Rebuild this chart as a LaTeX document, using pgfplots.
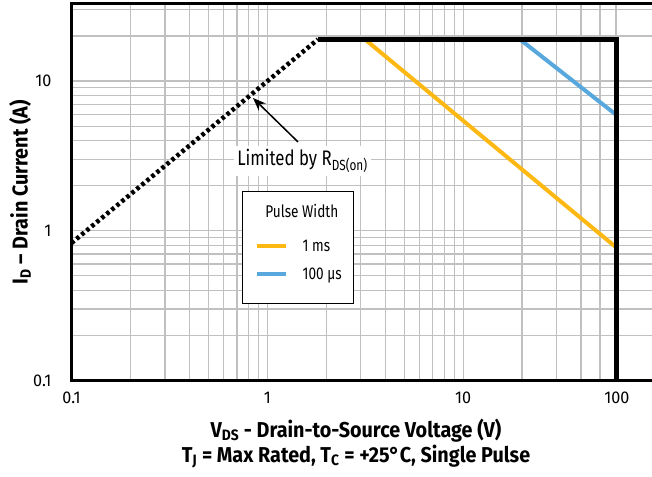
\documentclass[border=0pt]{standalone}
\usepackage{pgfplots}
\pgfplotsset{compat=1.18}
\usetikzlibrary{arrows.meta}
\usepackage{fontspec}
\setmainfont{Fira Sans}[FakeStretch=0.8]
\newfontfamily\tickfam{Fira Sans}[FakeStretch=0.95]
\newfontfamily\labfam{Fira Sans}[FakeStretch=0.92]
\newfontfamily\annfam{Fira Sans}[FakeStretch=0.8]
\definecolor{pworange}{RGB}{253,184,19}
\definecolor{pwblue}{RGB}{88,168,221}
\definecolor{gridgray}{RGB}{192,192,192}
\newcommand{\tickfont}{\tickfam\fontsize{17bp}{19bp}\selectfont}
\newcommand{\legfont}{\fontsize{17bp}{20bp}\selectfont}
\newcommand{\annfont}{\annfam\fontsize{21bp}{24bp}\selectfont}
\newcommand{\labfont}{\labfam\bfseries\fontsize{21.5bp}{25bp}\selectfont}
\begin{document}
\begin{tikzpicture}
\begin{axis}[
  name=ax, at={(0,0)}, anchor=south west,
  scale only axis, width=587.4bp, height=376.5bp,
  xmode=log, ymode=log,
  xmin=0.1, xmax=100, ymin=0.1, ymax=32.7,
  xtick={0.1,1,10,61}, xticklabels={0.1,1,10,100},
  ytick={0.1,1,10}, yticklabels={0.1,1,10},
  minor xtick={0.2,0.3,0.4,0.5,0.6,0.7,0.8,0.9,2,3,4,5,6,7,8,9,20,30,40,50,60},
  minor ytick={0.2,0.3,0.4,0.5,0.6,0.7,0.8,0.9,2,3,4,5,6,7,8,9,20,30},
  grid=both,
  major grid style={gridgray, line width=1.2bp},
  minor grid style={gridgray, line width=1.2bp},
  major tick length=0pt, minor tick length=0pt,
  axis line style={black, line width=3bp},
  tick label style={font=\tickfont},
  xticklabel style={anchor=north, inner sep=0pt, yshift=-11.5bp},
  yticklabel style={anchor=east, inner sep=0pt, xshift=-20bp},
  xlabel={V\textsubscript{DS} - Drain-to-Source Voltage (V)\\T\textsubscript{J} = Max Rated, T\textsubscript{C} = +25°C, Single Pulse},
  xlabel style={at={(axis description cs:0.4843,0)}, anchor=north, inner sep=0pt, yshift=-38bp, align=center, font=\labfont},
  ylabel={I\textsubscript{D} – Drain Current (A)},
  ylabel style={at={(axis description cs:-0.0877,0.5)}, anchor=center, inner sep=0pt, font=\labfont},
  legend style={at={(axis description cs:0.2903,0.5033)}, anchor=north west,
    draw=black, line width=1.2bp, fill=white, font=\legfont,
    inner xsep=12bp, inner ysep=10bp, row sep=8.3bp,
    nodes={inner sep=0pt, text height=16bp, text depth=4bp},
    /tikz/every odd column/.append style={column sep=15bp}},
  legend cell align=left,
  legend image code/.code={\draw[line width=4bp] (0bp,0bp) -- (29bp,0bp);},
]
\addlegendimage{empty legend}
\addlegendentry[text depth=9.7bp]{\hspace{-2.5bp}\makebox[0pt]{Pulse Width}}
\addplot[pworange, line width=4bp] coordinates {(3.15,19) (61,0.768)};
\addlegendentry{1 ms}
\addplot[pwblue, line width=4bp] coordinates {(19.5,19) (61,5.9)};
\addlegendentry{100 µs}
\addplot[black, line width=4.5bp, dash pattern=on 3.5bp off 3bp, forget plot] coordinates {(0.1,0.828) (1.815,19)};
\addplot[black, line width=5bp, line join=miter, forget plot] coordinates {(1.815,19) (61,19) (61,0.1)};
\addlegendimage{empty legend}
\addlegendentry[text height=0bp, text depth=0bp]{\phantom{x}}
\draw[black, line width=1.5bp, -{Stealth[length=13bp,width=10bp]}] (axis cs:1.435,3.92) -- (axis cs:0.845,7.71);
\node[fill=white, inner sep=3bp, font=\annfont] at (axis cs:1.513,2.92) {Limited by R\textsubscript{DS(on)}};
\end{axis}
\pgfresetboundingbox
\useasboundingbox ([shift={(-71.5bp,-95.5bp)}]ax.south west) rectangle ([shift={(-6.9bp,4bp)}]ax.north east);
\end{tikzpicture}
\end{document}
